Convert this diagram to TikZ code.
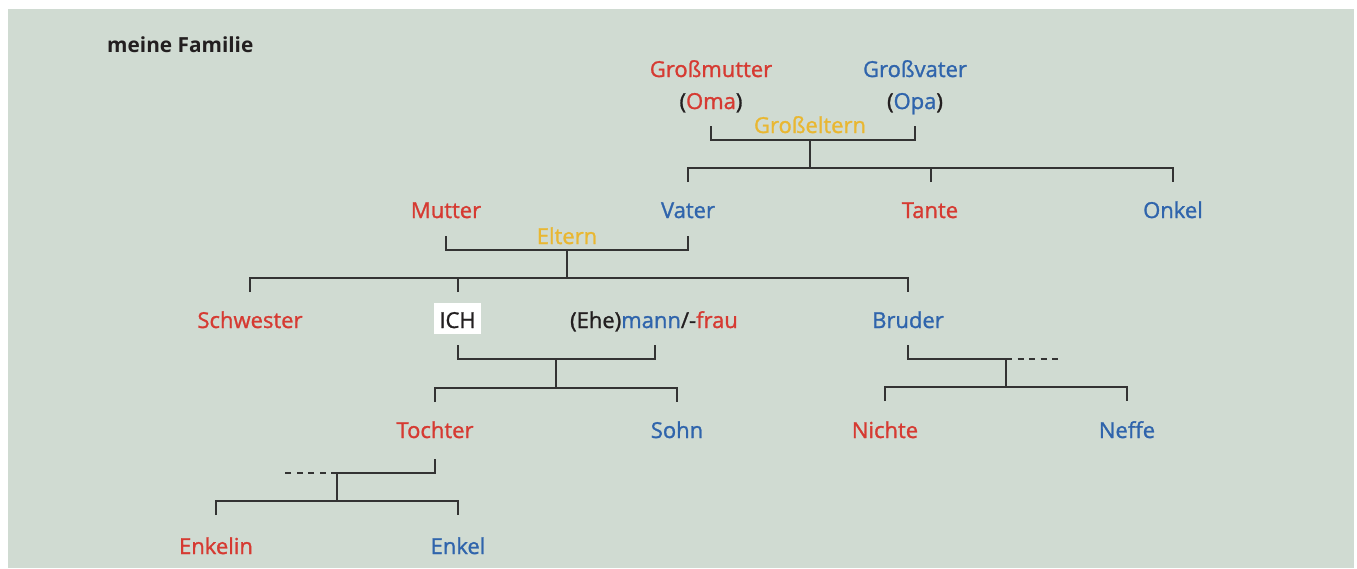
\documentclass[tikz,border=0pt]{standalone}
\usepackage{fontspec}
\setmainfont{Open Sans}
\newfontfamily\semif[FakeBold=1.2]{Open Sans}
\definecolor{bgc}{HTML}{D0DBD2}
\definecolor{linec}{HTML}{333333}
\definecolor{txtc}{HTML}{231F20}
\definecolor{redc}{HTML}{D63A32}
\definecolor{bluec}{HTML}{2F64AC}
\definecolor{yelc}{HTML}{E9B731}
\begin{document}
\begin{tikzpicture}[x=1pt,y=-1pt,
  lbl/.style={anchor=base,inner sep=0pt,font=\semif\fontsize{22}{22}\selectfont},
  rlbl/.style={lbl,text=redc},
  blbl/.style={lbl,text=bluec},
  ylbl/.style={lbl,text=yelc},
  klbl/.style={lbl,text=txtc},
  conn/.style={draw=linec,line width=1.3pt},
  dconn/.style={draw=linec,line width=1.3pt,dash pattern=on 6pt off 5.5pt}]
\useasboundingbox (0,0) rectangle (1357,568);
\fill[bgc] (8,9) rectangle (1354,568);

\node[klbl,anchor=base west,font=\bfseries\fontsize{20.8}{20.8}\selectfont] (title) at (107,52) {meine Familie};

% generation 1
\node[rlbl] (gm) at (711,77) {Großmutter};
\node[klbl] (oma) at (711,109) {(\textcolor{redc}{Oma})};
\node[blbl] (gv) at (915,77) {Großvater};
\node[klbl] (opa) at (915,109) {(\textcolor{bluec}{Opa})};
\node[ylbl] (ge) at (810,133) {Großeltern};

% generation 2
\node[rlbl] (mutter) at (446,218) {Mutter};
\node[blbl] (vater) at (688,218) {Vater};
\node[rlbl] (tante) at (930,218) {Tante};
\node[blbl] (onkel) at (1173,218) {Onkel};
\node[ylbl] (eltern) at (567,244) {Eltern};

% generation 3
\node[rlbl] (schwester) at (250,328) {Schwester};
\fill[white] (434,303) rectangle (481,334);
\node[klbl] (ich) at (457.5,328) {ICH};
\node[klbl] (ehe) at (654,328) {(Ehe)\textcolor{bluec}{mann}/-\textcolor{redc}{frau}};
\node[blbl] (bruder) at (908,328) {Bruder};

% generation 4
\node[rlbl] (tochter) at (435,438) {Tochter};
\node[blbl] (sohn) at (677,438) {Sohn};
\node[rlbl] (nichte) at (885,438) {Nichte};
\node[blbl] (neffe) at (1127,438) {Neffe};

% generation 5
\node[rlbl] (enkelin) at (216,554) {Enkelin};
\node[blbl] (enkel) at (458,554) {Enkel};

% connector coordinates
\coordinate (a1) at (711,126); \coordinate (a2) at (915,126);
\coordinate (aj) at (810,140); \coordinate (ak) at (810,168);
\coordinate (b1) at (688,182); \coordinate (b2) at (931,182); \coordinate (b3) at (1173,182);

\coordinate (c1) at (446,236); \coordinate (c2) at (688,236);
\coordinate (cj) at (567,250); \coordinate (ck) at (567,278);
\coordinate (d1) at (250,292); \coordinate (d2) at (458,292); \coordinate (d3) at (908,292);

\coordinate (e1) at (458,345); \coordinate (e2) at (655,345);
\coordinate (ej) at (556,359); \coordinate (ek) at (556,388);
\coordinate (f1) at (435,402); \coordinate (f2) at (677,402);

\coordinate (g1) at (908,345); \coordinate (gj) at (1006,359); \coordinate (gd) at (1060,359);
\coordinate (gk) at (1006,387);
\coordinate (h1) at (885,401); \coordinate (h2) at (1127,401);

\coordinate (i1) at (435,459); \coordinate (ij) at (337,473); \coordinate (id) at (283,473);
\coordinate (ik) at (337,501);
\coordinate (k1) at (216,515); \coordinate (k2) at (458,515);

% Großeltern
\draw[conn] (a1) |- (aj) -| (a2);
\draw[conn] (aj) -- (ak);
\draw[conn] (b1) |- (ak) -| (b3);
\draw[conn] (b2) -- (b2 |- ak);
% Eltern
\draw[conn] (c1) |- (cj) -| (c2);
\draw[conn] (cj) -- (ck);
\draw[conn] (d1) |- (ck) -| (d3);
\draw[conn] (d2) -- (d2 |- ck);
% ICH + partner
\draw[conn] (e1) |- (ej) -| (e2);
\draw[conn] (ej) -- (ek);
\draw[conn] (f1) |- (ek) -| (f2);
% Bruder
\draw[conn] (g1) |- (gj);
\draw[dconn] (gj) -- (gd);
\draw[conn] (gj) -- (gk);
\draw[conn] (h1) |- (gk) -| (h2);
% Tochter
\draw[conn] (i1) |- (ij);
\draw[dconn] (ij) -- (id);
\draw[conn] (ij) -- (ik);
\draw[conn] (k1) |- (ik) -| (k2);
\end{tikzpicture}
\end{document}
